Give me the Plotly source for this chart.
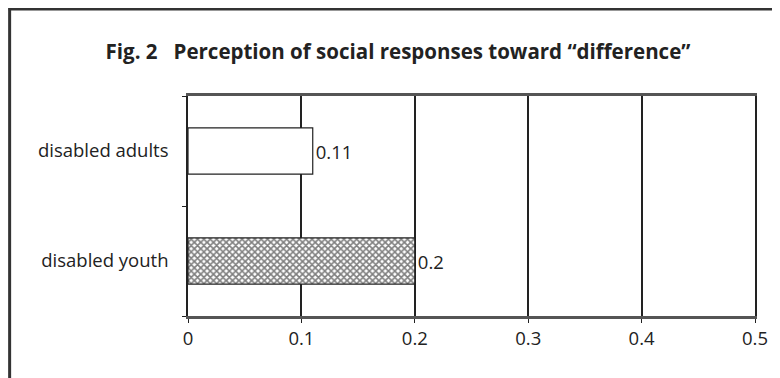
import plotly.graph_objects as go

categories = ["disabled youth", "disabled adults"]
values = [0.2, 0.11]
patterns = ["x", ""]
x_ticks = [0, 0.1, 0.2, 0.3, 0.4, 0.5]
x_tick_labels = ["0", "0.1", "0.2", "0.3", "0.4", "0.5"]
title_text = "Fig. 2   Perception of social responses toward \u201cdifference\u201d"

# page has an 8px body margin, so the figure is sized to fit the window
W, H = 772, 370
L, R, T, B = 180, 23, 88, 62
pw, ph = W - L - R, H - T - B

def px_x(p):
    return (p - L) / pw

def px_y(p):
    return (H - B - p) / ph

fig = go.Figure()
fig.add_trace(go.Bar(
    x=values, y=categories, orientation="h",
    width=0.42,
    marker=dict(color="white", line=dict(color="#222", width=1.2),
                pattern=dict(shape=patterns, fgcolor="#000", bgcolor="white", size=4.5, solidity=0.6)),
    text=[str(v) for v in values], textposition="outside", cliponaxis=False,
    textfont=dict(family="Open Sans", size=18.5, color="#222"),
    showlegend=False,
))

fig.update_layout(
    width=W, height=H,
    margin=dict(l=L, r=R, t=T, b=B),
    paper_bgcolor="white", plot_bgcolor="white",
    title=dict(text="<b>" + title_text + "</b>", x=390 / W, xref="container", xanchor="center",
               y=1 - 44 / H, yref="container", yanchor="middle",
               font=dict(family="Open Sans", size=20.5, color="#222")),
    font=dict(family="Open Sans", size=18.5, color="#222"),
    xaxis=dict(range=[0, 0.5], tickvals=x_ticks, ticktext=x_tick_labels,
               showgrid=True, gridcolor="#222", gridwidth=1.5,
               showline=True, linecolor="#555", linewidth=2.5, mirror=True,
               ticks="outside", ticklen=4, tickcolor="#222", zeroline=False,
               tickfont=dict(family="Open Sans", size=18.5, color="#222")),
    yaxis=dict(categoryorder="array", categoryarray=categories,
               showline=True, linecolor="#222", linewidth=1.5, mirror=True,
               ticks="outside", ticklen=4, tickcolor="#222", tickson="boundaries",
               showgrid=False, ticklabelstandoff=14,
               tickfont=dict(family="Open Sans", size=18.5, color="#222")),
    shapes=[
        dict(type="line", xref="paper", yref="paper", x0=px_x(0), x1=px_x(W), y0=px_y(1), y1=px_y(1),
             line=dict(color="#333", width=3)),
        dict(type="line", xref="paper", yref="paper", x0=px_x(1), x1=px_x(1), y0=px_y(0), y1=px_y(H),
             line=dict(color="#333", width=3)),
    ],
)

fig.write_html("out.html")
